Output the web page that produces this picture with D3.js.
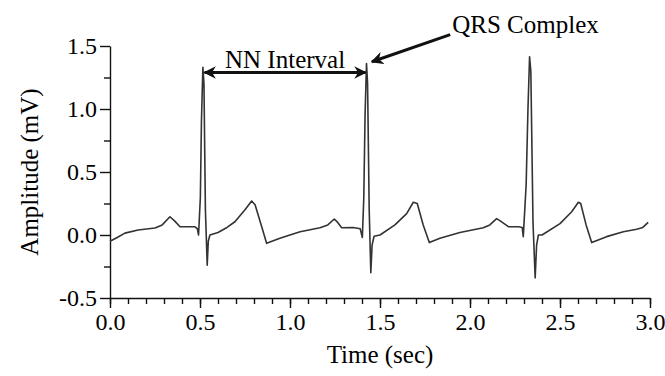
<!DOCTYPE html>
<html>
<head>
<meta charset="utf-8">
<script src="https://cdn.jsdelivr.net/npm/d3@7"></script>
</head>
<body style="margin:0">
<div id="chart"></div>
<script>
// ECG trace: time (sec) and amplitude (mV)
const timeSec = [
  0.00, 0.04, 0.083, 0.156, 0.25, 0.29, 0.333, 0.36, 0.389, 0.44, 0.472, 0.485, 0.492,
  0.502, 0.508, 0.516, 0.522, 0.53, 0.54, 0.546, 0.555,
  0.60, 0.65, 0.694, 0.75, 0.787, 0.806, 0.84, 0.87, 0.944, 1.056, 1.167, 1.21, 1.246,
  1.265, 1.287, 1.35, 1.39, 1.402,
  1.41, 1.417, 1.425, 1.431, 1.44, 1.449, 1.456, 1.467,
  1.50, 1.583, 1.648, 1.685, 1.707, 1.74, 1.774, 1.833, 1.944, 2.074, 2.11, 2.148,
  2.17, 2.213, 2.27, 2.29, 2.296,
  2.312, 2.322, 2.331, 2.338, 2.35, 2.362, 2.37, 2.38,
  2.40, 2.50, 2.565, 2.602, 2.615, 2.645, 2.676, 2.759, 2.852, 2.926, 2.96, 2.99
];
const amplitudeMv = [
  -0.05, -0.02, 0.015, 0.04, 0.055, 0.08, 0.145, 0.11, 0.066, 0.066, 0.065, 0.05, 0.0,
  0.3, 0.9, 1.33, 1.2, 0.2, -0.24, -0.05, 0.0,
  0.02, 0.06, 0.105, 0.2, 0.27, 0.24, 0.08, -0.066, -0.026, 0.026, 0.058, 0.08, 0.127,
  0.1, 0.058, 0.06, 0.05, -0.02,
  0.3, 0.95, 1.36, 1.2, 0.2, -0.30, -0.08, -0.01,
  0.0, 0.08, 0.17, 0.26, 0.25, 0.08, -0.06, -0.026, 0.02, 0.058, 0.08, 0.13,
  0.11, 0.066, 0.065, 0.06, -0.013,
  0.4, 1.0, 1.415, 1.3, 0.1, -0.34, -0.08, 0.0,
  0.0, 0.09, 0.185, 0.26, 0.25, 0.08, -0.06, -0.013, 0.026, 0.045, 0.06, 0.1
];

// tick labels
const xMajorTicks = [0.0, 0.5, 1.0, 1.5, 2.0, 2.5, 3.0];
const xMinorTicks = d3.range(0, 31).map(i => i / 10);
const yMajorTicks = [-0.5, 0.0, 0.5, 1.0, 1.5];
const yMinorTicks = [-0.25, 0.25, 0.75, 1.25];

// annotations: NN interval between the first two R peaks, arrow to second QRS
const nnInterval = { from: 0.525, to: 1.42, amp: 1.29, label: "NN Interval" };
const qrsNote = { label: "QRS Complex", tailT: 1.89, tailA: 1.59, tipT: 1.455, tipA: 1.375 };

const width = 665;
const height = 376;
const margin = { top: 46, right: 15, bottom: 78, left: 110 };
const fontName = "Liberation Serif";

const svg = d3.select("#chart")
  .append("svg")
  .attr("width", width)
  .attr("height", height);

// 刻度尺度
const xScale = d3.scaleLinear()
  .domain([0, 3])
  .range([margin.left, width - margin.right]);

const yScale = d3.scaleLinear()
  .domain([-0.5, 1.5])
  .range([height - margin.bottom, margin.top]);

const fmt = d => d.toFixed(1);

// x axis - minor ticks first, then major with labels
svg.append("g")
  .attr("transform", `translate(0, ${yScale(-0.5)})`)
  .call(d3.axisBottom(xScale).tickValues(xMinorTicks).tickSize(6).tickFormat(""))
  .call(g => g.select(".domain").remove());

svg.append("g")
  .attr("transform", `translate(0, ${yScale(-0.5)})`)
  .call(d3.axisBottom(xScale).tickValues(xMajorTicks).tickSize(10).tickSizeOuter(0).tickPadding(5).tickFormat(fmt));

// y axis
svg.append("g")
  .attr("transform", `translate(${xScale(0)}, 0)`)
  .call(d3.axisLeft(yScale).tickValues(yMinorTicks).tickSize(6).tickFormat(""))
  .call(g => g.select(".domain").remove());

svg.append("g")
  .attr("transform", `translate(${xScale(0)}, 0)`)
  .call(d3.axisLeft(yScale).tickValues(yMajorTicks).tickSize(10).tickSizeOuter(0).tickPadding(3).tickFormat(fmt));

// d3 axes put font-family="sans-serif" on their groups
svg.selectAll("g").attr("font-family", null).attr("font-size", null);

svg.selectAll(".tick text")
  .style("font-family", `"${fontName}"`)
  .style("font-size", "24px");

svg.selectAll(".domain, .tick line")
  .attr("stroke", "#111")
  .attr("stroke-width", 1.4);

// axis titles
svg.append("text")
  .attr("x", (xScale(0) + xScale(3)) / 2)
  .attr("y", 363)
  .attr("text-anchor", "middle")
  .style("font-family", `"${fontName}"`)
  .style("font-size", "25px")
  .text("Time (sec)");

svg.append("text")
  .attr("transform", `translate(38, ${yScale(0.5)}) rotate(-90)`)
  .attr("text-anchor", "middle")
  .style("font-family", `"${fontName}"`)
  .style("font-size", "25px")
  .text("Amplitude (mV)");

// ECG trace
const ecg = timeSec.map((t, i) => ({ t: t, v: amplitudeMv[i] }));

svg.append("path")
  .datum(ecg)
  .attr("fill", "none")
  .attr("stroke", "#333")
  .attr("stroke-width", 1.6)
  .attr("stroke-linejoin", "round")
  .attr("d", d3.line().x(d => xScale(d.t)).y(d => yScale(d.v)));

// arrow heads
const defs = svg.append("defs");
defs.append("marker")
  .attr("id", "head")
  .attr("viewBox", "0 0 10 10")
  .attr("refX", 9)
  .attr("refY", 5)
  .attr("markerWidth", 4.2)
  .attr("markerHeight", 4.2)
  .attr("orient", "auto-start-reverse")
  .append("path")
  .attr("d", "M0,0 L10,5 L0,10 L3,5 Z")
  .attr("fill", "#111");

// NN interval double arrow
svg.append("line")
  .attr("x1", xScale(nnInterval.from))
  .attr("x2", xScale(nnInterval.to))
  .attr("y1", yScale(nnInterval.amp))
  .attr("y2", yScale(nnInterval.amp))
  .attr("stroke", "#111")
  .attr("stroke-width", 3)
  .attr("marker-start", "url(#head)")
  .attr("marker-end", "url(#head)");

svg.append("text")
  .attr("x", xScale((nnInterval.from + nnInterval.to) / 2))
  .attr("y", yScale(nnInterval.amp) - 4)
  .attr("text-anchor", "middle")
  .style("font-family", `"${fontName}"`)
  .style("font-size", "25px")
  .text(nnInterval.label);

// QRS complex arrow
svg.append("line")
  .attr("x1", xScale(qrsNote.tailT))
  .attr("y1", yScale(qrsNote.tailA))
  .attr("x2", xScale(qrsNote.tipT))
  .attr("y2", yScale(qrsNote.tipA))
  .attr("stroke", "#111")
  .attr("stroke-width", 3)
  .attr("marker-end", "url(#head)");

svg.append("text")
  .attr("x", xScale(qrsNote.tailT) + 2)
  .attr("y", 33)
  .style("font-family", `"${fontName}"`)
  .style("font-size", "25px")
  .text(qrsNote.label);
</script>
</body>
</html>
